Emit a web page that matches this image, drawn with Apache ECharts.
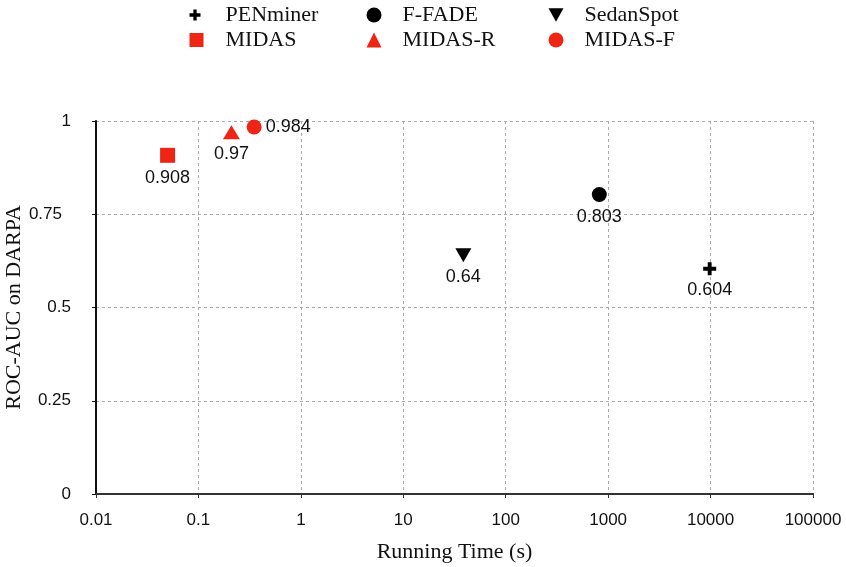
<!DOCTYPE html>
<html><head><meta charset="utf-8">
<script src="https://cdn.jsdelivr.net/npm/echarts@6/dist/echarts.min.js"></script>
<style>html,body{margin:0;padding:0;background:#fff}#c{width:846px;height:567px}</style>
</head><body><div id="c"></div>
<script>
const methods = ['PENminer','F-FADE','SedanSpot','MIDAS','MIDAS-R','MIDAS-F'];
const runTimes = [9800, 820, 38.6, 0.05, 0.21, 0.35];
const aucValues = [0.604, 0.803, 0.64, 0.908, 0.97, 0.984];
const xTickLabels = ['0.01','0.1','1','10','100','1000','10000','100000'];
const yTickLabels = ['0','0.25','0.5','0.75','1'];

const RED = '#ee2414';
const PLUS = 'path://M3.5,0 H6.5 V3.5 H10 V6.5 H6.5 V10 H3.5 V6.5 H0 V3.5 H3.5 Z';
const DOWN = 'path://M0,0 L10,0 L5,9 Z';
const styles = [
  {color:'#000', symbol:PLUS, size:13, lsize:11, pos:'bottom'},
  {color:'#000', symbol:'circle', size:15, lsize:15, pos:'bottom'},
  {color:'#000', symbol:DOWN, size:[16,14], lsize:15, pos:'bottom'},
  {color:RED, symbol:'rect', size:15, lsize:14, pos:'bottom'},
  {color:RED, symbol:'triangle', size:[17,14], lsize:15, pos:'bottom'},
  {color:RED, symbol:'circle', size:15, lsize:15, pos:'right'}
];
const legendPos = [[184.5,-1],[361.5,-1],[543.5,-1],[184.5,24],[361.5,24],[543.5,24]];

const chart = echarts.init(document.getElementById('c'));
const series = methods.map((m,i)=>({
  name:m, type:'scatter',
  symbol:styles[i].symbol, symbolSize:styles[i].size,
  itemStyle:{color:styles[i].color, opacity:1},
  data:[[runTimes[i], aucValues[i]]],
  label:{show:true, position:styles[i].pos, distance: styles[i].pos==='right'?4:6,
    formatter:()=>String(aucValues[i]),
    fontFamily:'Liberation Sans, Arial, sans-serif', fontSize:18, color:'#111'}
}));
const legends = methods.map((m,i)=>({
  data:[{name:m, icon: styles[i].symbol, itemStyle:{color:styles[i].color, opacity:1}}],
  left:legendPos[i][0], top:legendPos[i][1],
  itemWidth: styles[i].lsize, itemHeight: styles[i].lsize, itemGap: 10,
  textStyle:{fontFamily:'Liberation Serif, Times New Roman, serif', fontSize:22, color:'#111', padding:[0,0,0,16 + 15 - styles[i].lsize]},
  selectedMode:false
}));
chart.setOption({
  animation:false,
  legend: legends,
  grid:{left:96, right:33, top:121, bottom:73, containLabel:false, outerBoundsMode:'none'},
  xAxis:{type:'log', logBase:10, min:0.01, max:100000,
    name:'Running Time (s)', nameLocation:'middle', nameGap:47, nameMoveOverlap:false,
    nameTextStyle:{fontFamily:'Liberation Serif, Times New Roman, serif', fontSize:22, color:'#111'},
    axisLine:{lineStyle:{color:'#333', width:2}},
    axisTick:{show:true, length:4, lineStyle:{color:'#333'}},
    minorTick:{show:false},
    axisLabel:{margin:18, fontFamily:'Liberation Sans, Arial, sans-serif', fontSize:17, color:'#111',
      formatter:v=>xTickLabels[Math.round(Math.log10(v))+2]},
    splitLine:{show:true, lineStyle:{color:'#aaa', type:[3,3], width:1}}
  },
  yAxis:{type:'value', min:0, max:1, interval:0.25,
    name:'ROC-AUC on DARPA', nameLocation:'middle', nameGap:71, nameMoveOverlap:false,
    nameTextStyle:{fontFamily:'Liberation Serif, Times New Roman, serif', fontSize:22, color:'#111'},
    axisLine:{show:true, lineStyle:{color:'#111', width:2}},
    axisTick:{show:true, length:4, lineStyle:{color:'#111'}},
    axisLabel:{margin:25, fontFamily:'Liberation Sans, Arial, sans-serif', fontSize:17, color:'#111',
      formatter:v=>{const k=Math.round(v*4); return k===3 ? '{s|'+yTickLabels[k]+'}' : yTickLabels[k];},
      rich:{s:{fontFamily:'Liberation Sans, Arial, sans-serif', fontSize:17, color:'#111', padding:[0,9,0,0]}}},
    splitLine:{show:true, lineStyle:{color:'#aaa', type:[3,3], width:1}}
  },
  series: series
});
</script></body></html>
